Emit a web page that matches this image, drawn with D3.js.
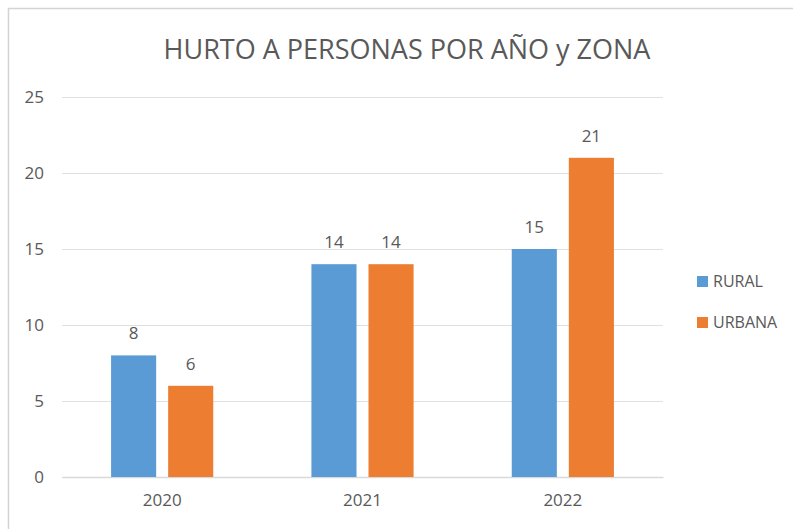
<!DOCTYPE html>
<html>
<head>
<meta charset="utf-8">
<script src="https://cdn.jsdelivr.net/npm/d3@7"></script>
<style>
  body { margin: 0; background: #fff; }
  svg { display: block; font-family: "Open Sans", "Liberation Sans", sans-serif; }
</style>
</head>
<body>
<svg id="chart"></svg>
<script>
// data
const years = ["2020", "2021", "2022"];
const zonas = ["RURAL", "URBANA"];
const rural = [8, 14, 15];
const urbana = [6, 14, 21];
const yTicks = [0, 5, 10, 15, 20, 25];

const width = 793, height = 529;
const colors = { RURAL: "#5B9BD5", URBANA: "#ED7D31" };
const textColor = "#595959";

const svg = d3.select("#chart").attr("width", width).attr("height", height);

// frame of the original chart area (left + top edges visible)
svg.append("path")
    .attr("d", "M8.5,529 V8.5 H793")
    .attr("fill", "none")
    .attr("stroke", "#d4d4d4")
    .attr("stroke-width", 1.5);

const margin = { left: 62, right: 130, top: 97, bottom: 52 };
const x0 = d3.scaleBand().domain(years).range([margin.left, width - margin.right])
    .paddingInner(0.49).paddingOuter(0.245);
const x1 = d3.scaleBand().domain(zonas).range([0, x0.bandwidth()]).paddingInner(0.21);
const y = d3.scaleLinear().domain([0, 25]).range([height - margin.bottom, margin.top]);

// gridlines
svg.append("g")
    .selectAll("line")
    .data(yTicks)
    .join("line")
    .attr("x1", margin.left)
    .attr("x2", width - margin.right)
    .attr("y1", d => y(d) + 0.5)
    .attr("y2", d => y(d) + 0.5)
    .attr("stroke", "#e0e0e0")
    .attr("stroke-width", 1);

// y axis labels
const yAxis = svg.append("g")
    .attr("transform", `translate(${margin.left - 18},0)`)
    .call(d3.axisLeft(y).tickValues(yTicks).tickSize(0).tickPadding(0));
yAxis.select(".domain").remove();
yAxis.selectAll("text")
    .attr("fill", textColor)
    .style("font-size", "17px")
    .style("font-family", "'Open Sans', sans-serif");

// x axis labels
const xAxis = svg.append("g")
    .attr("transform", `translate(0,${y(0)})`)
    .call(d3.axisBottom(x0).tickSize(0).tickPadding(17));
xAxis.select(".domain")
    .attr("stroke", "#d9d9d9")
    .attr("stroke-width", 1.5);
xAxis.selectAll("text")
    .attr("fill", textColor)
    .style("font-size", "17px")
    .style("font-family", "'Open Sans', sans-serif");

// bars
const rows = years.map((yr, i) => ({ year: yr, RURAL: rural[i], URBANA: urbana[i] }));
const groups = svg.append("g")
    .selectAll("g")
    .data(rows)
    .join("g")
    .attr("transform", d => `translate(${x0(d.year)},0)`);

groups.selectAll("rect")
    .data(d => zonas.map(z => ({ key: z, value: d[z] })))
    .join("rect")
    .attr("x", d => x1(d.key))
    .attr("width", x1.bandwidth())
    .attr("y", d => y(d.value))
    .attr("height", d => y(0) - y(d.value))
    .attr("fill", d => colors[d.key]);

groups.selectAll("text")
    .data(d => zonas.map(z => ({ key: z, value: d[z] })))
    .join("text")
    .attr("x", d => x1(d.key) + x1.bandwidth() / 2)
    .attr("y", d => y(d.value) - 16)
    .attr("text-anchor", "middle")
    .attr("fill", textColor)
    .style("font-size", "17px")
    .text(d => d.value);

// title
svg.append("text")
    .attr("x", 407)
    .attr("y", 59)
    .attr("text-anchor", "middle")
    .attr("fill", textColor)
    .style("font-size", "27px")
    .text("HURTO A PERSONAS POR AÑO y ZONA");

// legend
const legend = svg.append("g")
    .selectAll("g")
    .data(zonas)
    .join("g")
    .attr("transform", (d, i) => `translate(697,${276 + i * 41})`);
legend.append("rect")
    .attr("width", 11)
    .attr("height", 11)
    .attr("fill", d => colors[d]);
legend.append("text")
    .attr("x", 16)
    .attr("y", 5.5)
    .attr("dy", "0.35em")
    .attr("fill", textColor)
    .style("font-size", "16px")
    .text(d => d);
</script>
</body>
</html>
